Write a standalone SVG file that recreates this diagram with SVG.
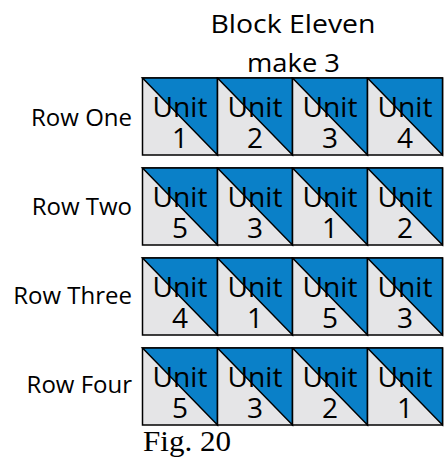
<svg xmlns="http://www.w3.org/2000/svg" width="448" height="459" viewBox="0 0 448 459">
<style>
.t{font-family:"Open Sans","Noto Sans",sans-serif;fill:#000}
.u{font-size:28px;text-anchor:middle}
.lbl{font-size:24px;text-anchor:end}
.ttl{font-size:26px;text-anchor:middle}
.bg{fill:#e5e5e7;stroke:#000;stroke-width:1.5}
.tri{fill:#0a80c8;stroke:#000;stroke-width:1.5;stroke-linejoin:miter}
.fig{font-family:"Liberation Serif","Times New Roman",serif;font-size:30px;fill:#000}
</style>
<defs>
<g id="cell">
<rect class="bg" x="0" y="0" width="75" height="77"/>
<polygon class="tri" points="0,0 75,0 75,77"/>
<text class="t u" x="37.5" y="39" textLength="55" lengthAdjust="spacingAndGlyphs">Unit</text>
</g>
</defs>
<text class="t ttl" x="293" y="33" textLength="165" lengthAdjust="spacingAndGlyphs">Block Eleven</text>
<text class="t ttl" x="293.5" y="72" textLength="93" lengthAdjust="spacingAndGlyphs">make 3</text>
<g id="row1">
<text class="t lbl" x="132" y="126">Row One</text>
<use href="#cell" x="142.5" y="78"/><text class="t u" x="180" y="148">1</text>
<use href="#cell" x="217.5" y="78"/><text class="t u" x="255" y="148">2</text>
<use href="#cell" x="292.5" y="78"/><text class="t u" x="330" y="148">3</text>
<use href="#cell" x="367.5" y="78"/><text class="t u" x="405" y="148">4</text>
</g>
<g id="row2">
<text class="t lbl" x="132" y="215">Row Two</text>
<use href="#cell" x="142.5" y="168"/><text class="t u" x="180" y="238">5</text>
<use href="#cell" x="217.5" y="168"/><text class="t u" x="255" y="238">3</text>
<use href="#cell" x="292.5" y="168"/><text class="t u" x="330" y="238">1</text>
<use href="#cell" x="367.5" y="168"/><text class="t u" x="405" y="238">2</text>
</g>
<g id="row3">
<text class="t lbl" x="132" y="304">Row Three</text>
<use href="#cell" x="142.5" y="258"/><text class="t u" x="180" y="328">4</text>
<use href="#cell" x="217.5" y="258"/><text class="t u" x="255" y="328">1</text>
<use href="#cell" x="292.5" y="258"/><text class="t u" x="330" y="328">5</text>
<use href="#cell" x="367.5" y="258"/><text class="t u" x="405" y="328">3</text>
</g>
<g id="row4">
<text class="t lbl" x="132" y="393">Row Four</text>
<use href="#cell" x="142.5" y="348"/><text class="t u" x="180" y="418">5</text>
<use href="#cell" x="217.5" y="348"/><text class="t u" x="255" y="418">3</text>
<use href="#cell" x="292.5" y="348"/><text class="t u" x="330" y="418">2</text>
<use href="#cell" x="367.5" y="348"/><text class="t u" x="405" y="418">1</text>
</g>
<text class="fig" x="143" y="451" textLength="88" lengthAdjust="spacingAndGlyphs">Fig. 20</text>
</svg>
